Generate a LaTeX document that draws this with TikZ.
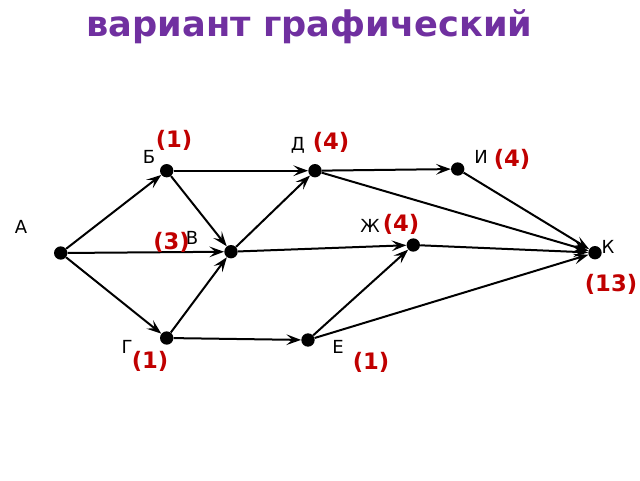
\documentclass[tikz,border=0pt]{standalone}
\usepackage{fontspec}
\setmainfont{DejaVu Sans}
\usepackage{xcolor}
\usepackage{tikz}
\usetikzlibrary{arrows.meta,positioning}
\definecolor{titlepurple}{RGB}{112,48,160}
\definecolor{weightred}{RGB}{192,0,0}
\tikzset{
    vertex/.style={circle, fill=black, inner sep=0pt, minimum size=10pt},
    letter/.style={font=\fontsize{13.5}{14}\selectfont, inner sep=0pt, anchor=base},
    weight/.style={font=\fontsize{17}{18}\bfseries\selectfont, text=weightred, inner sep=0pt},
    line/.style={draw, line width=1.5pt, -{Stealth[length=11pt, width=8pt, inset=4.5pt]}}
}
\begin{document}
\begin{tikzpicture}[x=0.75pt, y=-0.75pt]
    \useasboundingbox (0,0) rectangle (640,480);

    % Title
    \node [anchor=base, font=\fontsize{26.4}{30}\bfseries\selectfont, text=titlepurple] (title) at (309.5,36.5) {вариант графический};

    % Vertices
    \node [vertex] (a) at (60.7,253) {};
    \node [vertex] (b) at (166.7,170.7) {};
    \node [vertex] (v) at (231,251.7) {};
    \node [vertex] (g) at (166.7,338) {};
    \node [vertex] (d) at (315,170.7) {};
    \node [vertex] (e) at (308,340) {};
    \node [vertex] (i) at (457.7,169) {};
    \node [vertex] (zh) at (413.3,245) {};
    \node [vertex] (k) at (595,252.7) {};

    % Arcs
    \path [line] (a) -- (b);
    \path [line] (a) -- (v);
    \path [line] (a) -- (g);
    \path [line] (b) -- (d);
    \path [line] (b) -- (v);
    \path [line] (g) -- (v);
    \path [line] (g) -- (e);
    \path [line] (v) -- (d);
    \path [line] (v) -- (zh);
    \path [line] (d) -- (i);
    \path [line] (d) -- (k);
    \path [line] (i) -- (k);
    \path [line] (zh) -- (k);
    \path [line] (e) -- (zh);
    \path [line] (e) -- (k);

    % Letters
    \node [letter] (la) at (21,233) {А};
    \node [letter] (lb) at (149,163) {Б};
    \node [letter] (lv) at (192,244) {В};
    \node [letter] (lg) at (127,353) {Г};
    \node [letter] (ld) at (298,150) {Д};
    \node [letter] (le) at (338,353) {Е};
    \node [letter] (li) at (481,163) {И};
    \node [letter] (lzh) at (370,232) {Ж};
    \node [letter] (lk) at (608,253) {К};

    % Weights
    \node [weight] (wb) at (174,140) {(1)};
    \node [weight] (wv) at (171.5,242) {(3)};
    \node [weight] (wg) at (150,361) {(1)};
    \node [weight] (wd) at (331,142) {(4)};
    \node [weight] (we) at (371,362) {(1)};
    \node [weight] (wi) at (512,159) {(4)};
    \node [weight] (wzh) at (401,224) {(4)};
    \node [weight] (wk) at (611,284) {(13)};
\end{tikzpicture}
\end{document}
